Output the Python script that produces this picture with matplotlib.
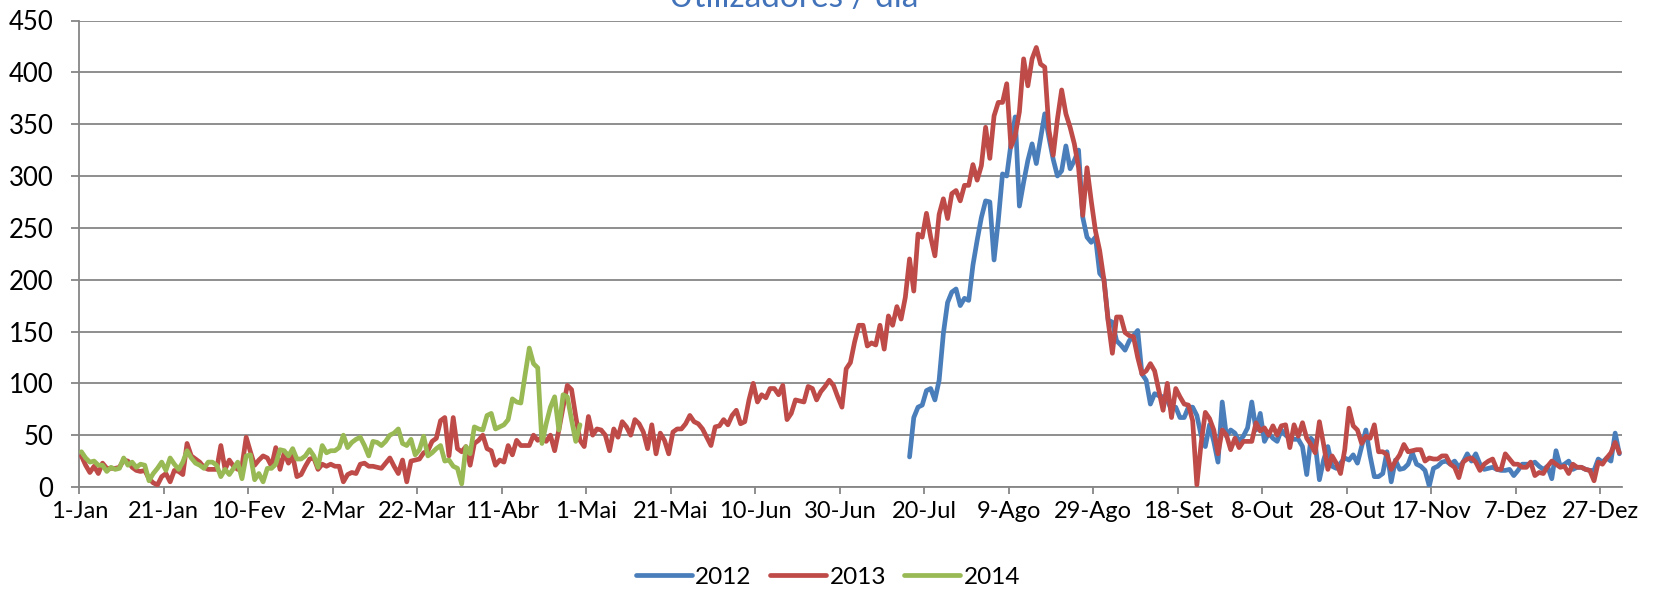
import matplotlib
matplotlib.use("Agg")
import matplotlib.pyplot as plt
import numpy as np

plt.rcParams['font.family'] = ['Lato', 'DejaVu Sans']

# ---------------- data ----------------
title = "Utilizadores / dia"
tick_days = [0, 20, 40, 60, 80, 100, 120, 140, 160, 180, 200, 220, 240, 260, 280, 300, 320, 340, 360]
tick_labels = ["1-Jan", "21-Jan", "10-Fev", "2-Mar", "22-Mar", "11-Abr", "1-Mai", "21-Mai",
               "10-Jun", "30-Jun", "20-Jul", "9-Ago", "29-Ago", "18-Set", "8-Out", "28-Out",
               "17-Nov", "7-Dez", "27-Dez"]

# 2012: values from day index 196 (mid-July) to 364
start_2012 = 196
values_2012 = [
    29, 67, 77, 79, 93, 95, 84, 103, 148, 178,
    188, 191, 175, 182, 180, 214, 238, 260, 276, 275,
    219, 257, 302, 300, 331, 357, 271, 294, 315, 331,
    312, 336, 360, 337, 316, 300, 305, 329, 307, 315,
    325, 260, 241, 236, 241, 206, 201, 161, 159, 141,
    137, 132, 141, 146, 151, 109, 103, 80, 90, 88,
    87, 84, 74, 77, 67, 67, 77, 77, 69, 50,
    39, 60, 44, 24, 82, 49, 55, 52, 44, 49,
    57, 82, 55, 71, 44, 52, 47, 44, 55, 50,
    47, 46, 46, 39, 12, 47, 42, 7, 26, 39,
    20, 18, 23, 28, 26, 31, 23, 39, 55, 30,
    10, 10, 13, 34, 5, 26, 17, 18, 22, 33,
    22, 20, 16, 1, 18, 20, 24, 25, 22, 25,
    19, 24, 32, 25, 32, 22, 17, 18, 19, 17,
    16, 16, 17, 11, 16, 22, 22, 22, 24, 20,
    17, 20, 8, 35, 20, 22, 25, 17, 19, 19,
    17, 16, 16, 27, 24, 28, 25, 52, 32,
]

# 2013: full year, day index 0..364
values_2013 = [
    30, 21, 14, 20, 13, 23, 18, 18, 18, 19,
    26, 25, 19, 16, 15, 16, 8, 4, 2, 10,
    13, 5, 16, 15, 12, 42, 30, 27, 24, 19,
    17, 17, 17, 40, 17, 26, 20, 17, 20, 48,
    34, 21, 26, 30, 28,
    20, 38, 17, 33, 23, 30, 10, 12, 20, 27,
    28, 17, 22, 20, 22, 20, 20, 5, 12, 14,
    13, 22, 23, 20, 20, 19, 18, 23, 28, 20,
    13, 26, 5, 25, 26, 27, 33, 35, 44, 47,
    64, 67, 30, 67,
    37, 34, 39, 21, 42, 45, 50, 37, 35, 21,
    26, 24, 40, 31, 45, 40, 40, 40, 50, 45,
    48, 44, 50, 35, 55, 77, 98, 94, 68, 45,
    39, 68, 50, 56, 55, 50, 35, 56, 48, 63,
    58, 50, 65, 61, 53, 37, 60,
    32, 52, 45, 32, 53, 56, 56, 61, 69, 63,
    61, 56, 48, 40, 58, 59, 65, 60, 69, 74,
    61, 63, 84, 100, 82, 89, 86, 95, 95, 89,
    98, 65, 71, 84, 83, 82, 97, 95, 84, 92,
    97, 103, 98, 87, 77,
    114, 120, 140, 156, 156, 136, 139, 137, 156, 133,
    165, 156, 174, 162, 183, 220, 189, 244, 241, 264,
    241, 223, 263, 278, 259, 283, 286, 276, 291, 291,
    311, 296, 310, 347, 317, 358, 371, 371, 389, 328,
    339, 362, 413, 387, 413, 424, 408, 405, 344, 320,
    355, 383, 360, 347, 331, 308, 262, 308, 276, 247,
    228, 200, 160, 129, 164, 164, 149, 146, 145, 125,
    109, 112, 119, 112, 93, 74, 100, 67, 95, 87,
    80, 79, 64, 2, 42, 72, 66, 55, 32, 55,
    50, 36, 47, 38, 44, 44, 44, 62, 54, 57,
    50, 59, 50, 59, 60, 38, 60, 49, 62, 47,
    41, 33, 63, 41, 17, 30, 23, 13, 36, 76,
    59, 55, 42, 49, 47, 60, 34, 34, 31, 17,
    25, 31, 41, 34, 35, 36, 36, 25, 28, 27,
    27, 30, 30, 22, 19, 9, 24, 27, 28, 24,
    16, 22, 25, 27, 17, 17, 32, 27, 22, 22,
    19, 19, 24, 11, 14, 13, 20, 25, 22, 19,
    20, 13, 22, 19, 19, 17, 16, 6, 24, 22,
    28, 33, 43, 33,
]

# 2014: from 1-Jan to end of April
values_2014 = [
    34, 28, 24, 25, 21, 21, 15, 19, 17, 18,
    28, 21, 24, 19, 22, 21, 6, 13, 18, 24,
    16, 28, 22, 17, 24, 35, 28, 23, 21, 18,
    24, 24, 21, 10, 17, 12, 18, 24, 8, 30,
    31, 7, 13, 5, 18,
    18, 22, 36, 35, 30, 37, 27, 27, 30, 36,
    30, 19, 40, 33, 35, 35, 38, 50, 38, 43,
    46, 48, 40, 30, 44, 43, 40, 44, 50, 52,
    56, 42, 40, 46, 31, 36, 49, 30, 33, 37,
    40, 25, 26, 20,
    18, 3, 39, 32, 58, 56, 55, 69, 71, 56,
    58, 60, 65, 85, 82, 81, 108, 134, 119, 115,
    42, 61, 77, 87, 55, 89, 87, 65, 44, 60,
]

series_names = ["2012", "2013", "2014"]
colors = ["#4A7EBB", "#BE4B48", "#98B954"]

# ---------------- figure ----------------
W, H = 1655, 589
fig = plt.figure(figsize=(W / 100, H / 100), dpi=100)
ax = fig.add_axes([79.3 / W, 1 - 487 / H, (1621.5 - 79.3) / W, (487 - 20.5) / H])

x2012 = np.arange(start_2012, start_2012 + len(values_2012)) + 0.5
x2013 = np.arange(len(values_2013)) + 0.5
x2014 = np.arange(len(values_2014)) + 0.5

lw = 3.4
kw = dict(lw=lw, solid_joinstyle='round', solid_capstyle='round')
h1, = ax.plot(x2012, values_2012, color=colors[0], zorder=3, **kw)
h2, = ax.plot(x2013, values_2013, color=colors[1], zorder=4, **kw)
h3, = ax.plot(x2014, values_2014, color=colors[2], zorder=5, **kw)

ax.set_xlim(0, 365)
ax.set_ylim(0, 450)
ax.set_yticks(np.arange(0, 451, 50))
ax.set_xticks(tick_days)
ax.set_xticklabels(tick_labels)

grid_c = "#868686"
ax.yaxis.grid(True, color=grid_c, lw=1.3, zorder=1)
ax.set_axisbelow(True)
for s in ["top", "right"]:
    ax.spines[s].set_visible(False)
for s in ["left", "bottom"]:
    ax.spines[s].set_color(grid_c)
    ax.spines[s].set_linewidth(1.3)

ax.tick_params(axis='y', direction='out', length=5.5, width=1.3, color=grid_c,
               labelsize=18.5, pad=13, labelcolor='black')
ax.tick_params(axis='x', direction='out', length=5.2, width=1.3, color=grid_c,
               labelsize=17, pad=5, labelcolor='black')

fig.text(794 / W, 1 - 7.3 / H, title, ha='center', va='baseline',
         fontsize=24, color="#4272B9")

fig.legend([h1, h2, h3], series_names, loc='center', bbox_to_anchor=(828 / W, 1 - 577 / H),
           ncol=3, frameon=False, fontsize=17.5, handlelength=2.3,
           handletextpad=0.15, columnspacing=0.75, borderpad=0)

fig.savefig("out.png", dpi=100)
